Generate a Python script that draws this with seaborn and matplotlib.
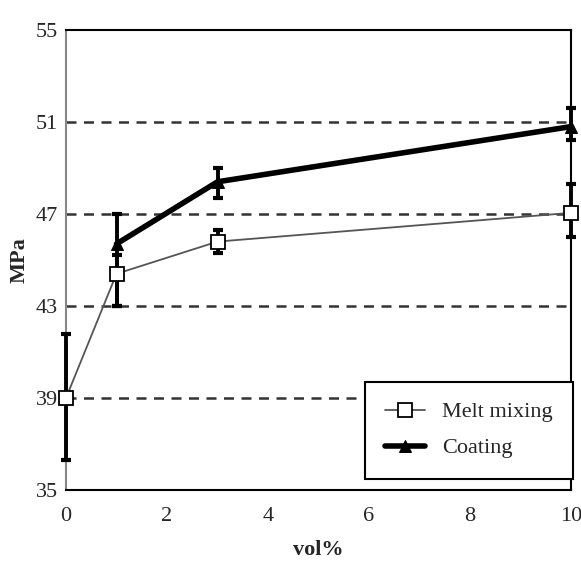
import numpy as np
import pandas as pd
import seaborn as sns
import matplotlib
matplotlib.use('Agg')
import matplotlib.pyplot as plt

# data
melt_x = [0, 1, 3, 10]
melt_y = [39.0, 44.4, 45.8, 47.05]
melt_lo = [36.3, 43.0, 45.3, 46.0]
melt_hi = [41.8, 45.2, 46.3, 48.3]

coat_x = [1, 3, 10]
coat_y = [45.7, 48.4, 50.8]
coat_lo = [43.0, 47.7, 50.2]
coat_hi = [47.0, 49.0, 51.6]

sns.set_style('white')
plt.rcParams['font.family'] = ['Liberation Serif', 'DejaVu Serif']

fig = plt.figure(figsize=(5.81, 5.70), dpi=100)
ax = fig.add_axes([66 / 581, 1 - 490 / 570, (571 - 66) / 581, (490 - 30) / 570])

# dashed reference lines
for yv in [39, 43, 47, 51]:
    ax.axhline(yv, color='#333333', linestyle=(0, (4, 3)), linewidth=1.8, zorder=0)

df_melt = pd.DataFrame({'vol': melt_x, 'MPa': melt_y})
df_coat = pd.DataFrame({'vol': coat_x, 'MPa': coat_y})

# error bars
ax.errorbar(melt_x, melt_y,
            yerr=[np.array(melt_y) - np.array(melt_lo), np.array(melt_hi) - np.array(melt_y)],
            fmt='none', ecolor='black', elinewidth=2.8, capsize=3.5, capthick=3, zorder=3)
ax.errorbar(coat_x, coat_y,
            yerr=[np.array(coat_y) - np.array(coat_lo), np.array(coat_hi) - np.array(coat_y)],
            fmt='none', ecolor='black', elinewidth=2.8, capsize=3.5, capthick=3, zorder=3)

sns.lineplot(data=df_melt, x='vol', y='MPa', ax=ax, color='#555555', linewidth=1.3,
             marker='s', markersize=10, markerfacecolor='white', markeredgecolor='black',
             markeredgewidth=1.3, label='Melt mixing', zorder=5)
sns.lineplot(data=df_coat, x='vol', y='MPa', ax=ax, color='black', linewidth=4,
             marker='^', markersize=9, markerfacecolor='black', markeredgecolor='black',
             label='Coating', zorder=4)

# let the marks at x=0 and x=10 show over the spines
for art in ax.lines + ax.collections:
    art.set_clip_on(False)

ax.set_xlim(0, 10)
ax.set_ylim(35, 55)
ax.set_xticks([0, 2, 4, 6, 8, 10])
ax.set_yticks([35, 39, 43, 47, 51, 55])
ax.tick_params(axis='both', labelsize=16, length=4, direction='out', color='#888888')
ax.tick_params(axis='x', pad=8)
ax.tick_params(axis='y', pad=2)
for s in ax.spines.values():
    s.set_color('black')
    s.set_linewidth(1.5)
ax.spines['left'].set_color('#888888')

ax.set_xlabel('vol%', fontsize=16, fontweight='bold', labelpad=10)
ax.set_ylabel('MPa', fontsize=16, fontweight='bold', labelpad=4)

leg = ax.legend(loc='lower right', fontsize=16, frameon=True, fancybox=False,
                edgecolor='black', framealpha=1, borderpad=0.9, handlelength=1.8,
                labelspacing=0.7, borderaxespad=0, bbox_to_anchor=(1.004, 0.025))
leg.get_frame().set_linewidth(1.5)
leg.set_zorder(6)

fig.savefig('out.png', dpi=100)
